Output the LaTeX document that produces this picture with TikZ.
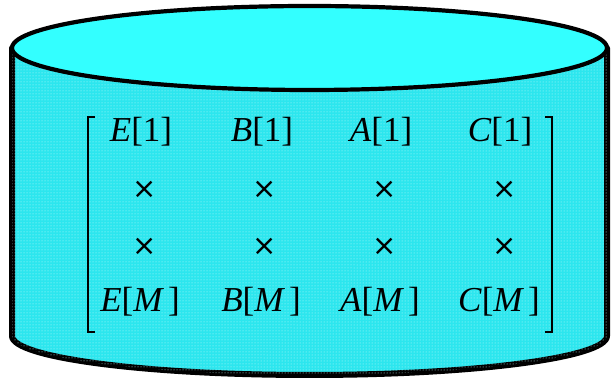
\documentclass[tikz,border=0pt]{standalone}
\usepackage{fontspec}
\setmainfont{Liberation Serif}
\newfontfamily\crossfont{DejaVu Sans}
\usetikzlibrary{patterns}

\definecolor{lidcyan}{RGB}{51,255,255}
\definecolor{bodycyan}{RGB}{44,230,238}

\begin{document}
\begin{tikzpicture}[
  x=1pt, y=1pt,
  entry/.style={inner sep=0pt, font=\fontsize{35}{40}\selectfont},
  cross/.style={inner sep=0pt, font=\crossfont\fontsize{29}{34}\selectfont},
  bracket/.style={line width=2.8pt}
]
\useasboundingbox (0,0) rectangle (613,382);
% cylinder body
\filldraw[fill=bodycyan, line width=6pt, line join=round,
  postaction={pattern=dots, pattern color=white!70!bodycyan}]
  (12,334) -- (12,46) arc[start angle=180, end angle=360, x radius=297.5, y radius=39]
  -- (607,334) -- cycle;
% lid
\filldraw[fill=lidcyan, line width=4.2pt] (309.5,334) ellipse[x radius=297.5, y radius=42];

% matrix entries
\node[entry] (e1) at (141,250) {\textit{E}[1]};
\node[entry] (b1) at (262,250) {\textit{B}[1]};
\node[entry] (a1) at (381,250) {\textit{A}[1]};
\node[entry] (c1) at (500,250) {\textit{C}[1]};
\node[cross] (ex1) at (145,192) {×};
\node[cross] (bx1) at (265,192) {×};
\node[cross] (ax1) at (385,192) {×};
\node[cross] (cx1) at (505,192) {×};
\node[cross] (ex2) at (145,135) {×};
\node[cross] (bx2) at (265,135) {×};
\node[cross] (ax2) at (385,135) {×};
\node[cross] (cx2) at (505,135) {×};
\node[entry] (em) at (140,80) {\textit{E}[\textit{M}\hspace{4pt}]};
\node[entry] (bm) at (261,80) {\textit{B}[\textit{M}\hspace{4pt}]};
\node[entry] (am) at (380,80) {\textit{A}[\textit{M}\hspace{4pt}]};
\node[entry] (cm) at (499,80) {\textit{C}[\textit{M}\hspace{4pt}]};

% brackets
\draw[bracket] (95,265) -- (88,265) -- (88,50) -- (95,50);
\draw[bracket] (545,265) -- (552,265) -- (552,50) -- (545,50);
\end{tikzpicture}
\end{document}
